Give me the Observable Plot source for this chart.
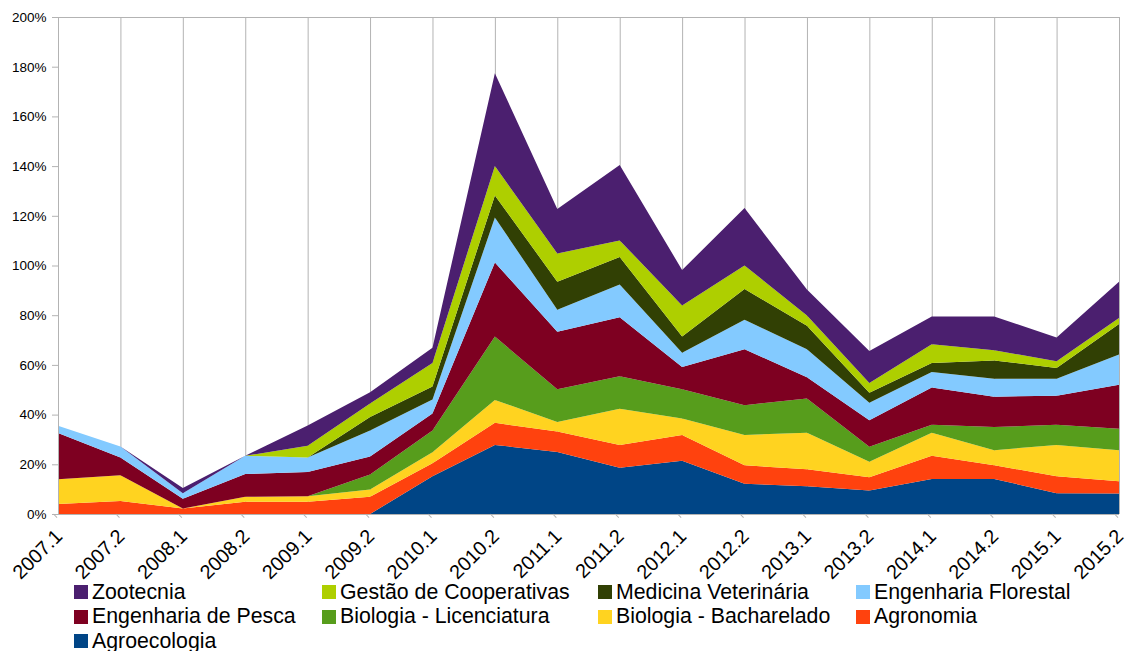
<!DOCTYPE html>
<html>
<head>
<meta charset="utf-8">
<script src="https://cdn.jsdelivr.net/npm/d3@7"></script>
<script src="https://cdn.jsdelivr.net/npm/@observablehq/plot@0.6"></script>
<style>
  html, body { margin: 0; padding: 0; background: #fff; }
  body { width: 1126px; height: 651px; overflow: hidden; font-family: "Liberation Sans", Arial, sans-serif; }
  #legend { position: relative; height: 71px; }
  .item { position: absolute; display: flex; align-items: center; font-size: 21.3px; color: #000; white-space: nowrap; height: 24px; }
  .sw { width: 14px; height: 14px; margin-right: 4px; }
  svg [aria-label="x-axis tick label"] text { font-size: 19.8px !important; }
  svg [aria-label="y-axis tick label"] text { font-size: 13.5px !important; }
</style>
</head>
<body>
<div id="chart"></div>
<div id="legend"></div>
<script>
const periods = ["2007.1","2007.2","2008.1","2008.2","2009.1","2009.2","2010.1","2010.2","2011.1","2011.2","2012.1","2012.2","2013.1","2013.2","2014.1","2014.2","2015.1","2015.2"];

// stacking order bottom -> top
const seriesNames = ["Agroecologia","Agronomia","Biologia - Bacharelado","Biologia - Licenciatura","Engenharia de Pesca","Engenharia Florestal","Medicina Veterinária","Gestão de Cooperativas","Zootecnia"];
const seriesColors = ["#004586","#ff420e","#ffd320","#579d1c","#7e0021","#83caff","#314004","#aecf00","#4b1f6f"];

const agroecologia  = [0,0,0,0,0,0,15.2,27.8,25.0,18.6,21.4,12.2,11.2,9.5,14.1,14.1,8.4,8.2];
const agronomia     = [4.0,5.2,2.2,4.9,4.9,6.9,5.2,8.9,8.2,9.2,10.4,7.4,6.8,5.3,9.3,5.5,6.8,5.0];
const bioBacharelado= [10.0,10.4,0,2.0,2.2,3.0,4.4,9.2,3.8,14.6,6.6,12.2,14.7,6.2,9.3,6.1,12.6,12.5];
const bioLicenciatura=[0,0,0,0,0,6.0,8.8,25.5,13.2,13.0,11.8,12.0,13.8,6.1,3.2,9.3,8.1,8.6];
const engPesca      = [18.6,7.1,3.9,9.2,9.8,7.2,6.8,29.8,23.1,23.8,9.0,22.5,8.5,10.6,15.0,12.2,11.7,17.7];
const engFlorestal  = [2.9,4.5,2.3,7.3,5.8,10.5,5.7,18.1,8.9,13.2,5.7,11.9,11.3,7.1,6.2,7.2,6.8,12.2];
const medVet        = [0,0,0,0,0,5.4,5.2,8.9,11.3,11.0,6.5,12.3,9.5,4.0,3.7,7.4,4.4,12.3];
const gestaoCoop    = [0,0,0,0,4.8,5.5,9.5,11.8,11.3,6.7,12.5,9.5,4.1,3.9,7.5,4.1,2.7,2.4];
const zootecnia     = [0,0,2.1,0,8.1,4.5,6.1,37.4,17.9,30.3,14.3,23.1,10.4,12.9,11.2,13.6,9.5,14.6];

const seriesValues = [agroecologia, agronomia, bioBacharelado, bioLicenciatura, engPesca, engFlorestal, medVet, gestaoCoop, zootecnia];

const yTicks = [0,20,40,60,80,100,120,140,160,180,200];

// legend order (rows of 4)
const legendOrder = ["Zootecnia","Gestão de Cooperativas","Medicina Veterinária","Engenharia Florestal","Engenharia de Pesca","Biologia - Licenciatura","Biologia - Bacharelado","Agronomia","Agroecologia"];

const data = [];
seriesNames.forEach((s, si) => {
  periods.forEach((p, pi) => data.push({period: p, series: s, value: seriesValues[si][pi]}));
});

const grid = "#b3b3b3";
const chart = Plot.plot({
  width: 1126,
  height: 580,
  marginTop: 17,
  marginBottom: 66,
  marginLeft: 58,
  marginRight: 7,
  style: {fontFamily: "Liberation Sans, Arial, sans-serif", background: "#fff", color: "#000", overflow: "visible"},
  x: {type: "point", domain: periods, padding: 0, round: false},
  y: {domain: [0, 200]},
  color: {domain: seriesNames, range: seriesColors},
  marks: [
    Plot.ruleX(periods, {stroke: grid, strokeWidth: 1}),
    Plot.ruleY([200], {stroke: grid, strokeWidth: 1}),
    Plot.areaY(data, {x: "period", y: "value", fill: "series", order: seriesNames, curve: "linear"}),
    Plot.ruleY([0], {stroke: grid, strokeWidth: 1}),
    Plot.ruleX([periods[0]], {stroke: grid, strokeWidth: 1}),
    Plot.axisY({ticks: yTicks, tickSize: 6, tickPadding: 6, tickFormat: d => d + "%", fontSize: 13.5, stroke: grid, fill: "#000", label: null}),
    Plot.axisX({tickSize: 5, tickPadding: 8, dx: -5, rotate: -45, textAnchor: "end", fontSize: 19.8, stroke: grid, fill: "#000", label: null})
  ]
});
document.getElementById("chart").appendChild(chart);

const legend = document.getElementById("legend");
const colLeft = [74, 322, 598, 856];
legendOrder.forEach((name, i) => {
  const row = Math.floor(i / 4), col = i % 4;
  const el = document.createElement("div");
  el.className = "item";
  el.style.left = colLeft[col] + "px";
  el.style.top = (row * 24.5) + "px";
  const sw = document.createElement("span");
  sw.className = "sw";
  sw.style.background = seriesColors[seriesNames.indexOf(name)];
  el.appendChild(sw);
  el.appendChild(document.createTextNode(name));
  legend.appendChild(el);
});
</script>
</body>
</html>
